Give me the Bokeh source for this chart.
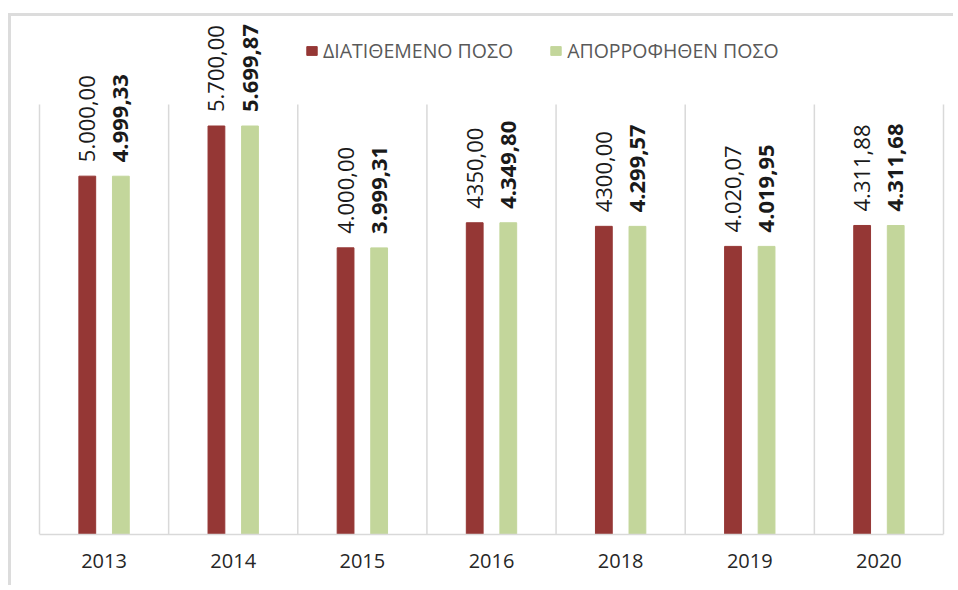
import math
from bokeh.plotting import figure
from bokeh.models import ColumnDataSource, Range1d, FixedTicker, Legend, LegendItem
from bokeh.core.properties import value
from bokeh.embed import file_html
from bokeh.resources import INLINE

years = ["2013", "2014", "2015", "2016", "2018", "2019", "2020"]
allocated = [5000.00, 5700.00, 4000.00, 4350.00, 4300.00, 4020.07, 4311.88]
absorbed = [4999.33, 5699.87, 3999.31, 4349.80, 4299.57, 4019.95, 4311.68]
allocated_labels = ["5.000,00", "5.700,00", "4.000,00", "4350,00", "4300,00", "4.020,07", "4.311,88"]
absorbed_labels = ["4.999,33", "5.699,87", "3.999,31", "4.349,80", "4.299,57", "4.019,95", "4.311,68"]
series_names = ["ΔΙΑΤΙΘΕΜΕΝΟ ΠΟΣΟ", "ΑΠΟΡΡΟΦΗΘΕΝ ΠΟΣΟ"]
y_max = 6000

RED = "#953735"
GREEN = "#C3D69B"
GRID = "#d9d9d9"

# layout (page pixels)
CANVAS_X, CANVAS_Y = 11, 16
W, H = 945, 572
AX_L, AX_R, AX_TOP, AX_BOT = 39, 943, 104, 534

n = len(years)
ppu_x = (AX_R - AX_L) / n
x_start = -(AX_L - CANVAS_X) / ppu_x
x_end = n + (CANVAS_X + W - AX_R) / ppu_x
ppu_y = (AX_BOT - AX_TOP) / y_max
y_end = (AX_BOT - CANVAS_Y) / ppu_y

centers = [i + 0.5 for i in range(n)]
off = 0.13
src = ColumnDataSource(dict(
    xr=[c - off for c in centers],
    xg=[c + off for c in centers],
    red=allocated,
    green=absorbed,
    red_lbl=allocated_labels,
    green_lbl=absorbed_labels,
))
bounds = list(range(n + 1))
sep = ColumnDataSource(dict(x=bounds, y0=[0] * len(bounds), y1=[y_max] * len(bounds)))

p = figure(width=W, height=H, output_backend="svg", toolbar_location=None,
           x_range=Range1d(x_start, x_end), y_range=Range1d(0, y_end),
           min_border_left=0, min_border_right=0, min_border_top=0,
           min_border_bottom=CANVAS_Y + H - AX_BOT)
p.styles = {"border-top": "3px solid #dcdcdc", "border-left": "3px solid #dcdcdc",
            "margin-top": "13px", "margin-left": "8px"}
p.outline_line_color = None
p.background_fill_color = "white"
p.border_fill_color = "white"
p.xgrid.visible = False
p.ygrid.visible = False
p.yaxis.visible = False

p.segment(x0="x", x1="x", y0="y0", y1="y1", line_color=GRID, line_width=1.5, source=sep)

r1 = p.vbar(x="xr", top="red", bottom=0, width=0.13, color=RED, source=src)
r2 = p.vbar(x="xg", top="green", bottom=0, width=0.13, color=GREEN, source=src)

p.text(x="xr", y="red", text="red_lbl", angle=math.pi / 2, text_align="left",
       text_baseline="middle", y_offset=-14, text_font=value("Open Sans"),
       text_font_size="22px", text_color="#1a1a1a", source=src)
p.text(x="xg", y="green", text="green_lbl", angle=math.pi / 2, text_align="left",
       text_baseline="middle", y_offset=-14, text_font=value("Open Sans"),
       text_font_size="22px", text_font_style="bold", text_color="#1a1a1a", source=src)

xa = p.xaxis[0]
xa.bounds = (0, n)
xa.ticker = FixedTicker(ticks=centers)
xa.major_label_overrides = {c: y for c, y in zip(centers, years)}
xa.major_tick_line_color = None
xa.minor_tick_line_color = None
xa.axis_line_color = GRID
xa.axis_line_width = 1.5
xa.major_label_text_font = "Open Sans"
xa.major_label_text_font_size = "20px"
xa.major_label_text_color = "#262626"
xa.major_label_standoff = 13

legend = Legend(items=[LegendItem(label=series_names[0], renderers=[r1]),
                       LegendItem(label=series_names[1], renderers=[r2])],
                orientation="horizontal", location=(305 - CANVAS_X, AX_BOT - 64))
legend.label_text_font = "Open Sans"
legend.label_text_font_size = "19.5px"
legend.label_text_color = "#595959"
legend.label_height = 20
legend.glyph_width = 13
legend.glyph_height = 11
legend.label_standoff = 5
legend.spacing = 36
legend.border_line_color = None
legend.background_fill_alpha = 0
legend.padding = 0
legend.margin = 0
p.add_layout(legend, "center")

open("out.html", "w").write(file_html(p, INLINE))
